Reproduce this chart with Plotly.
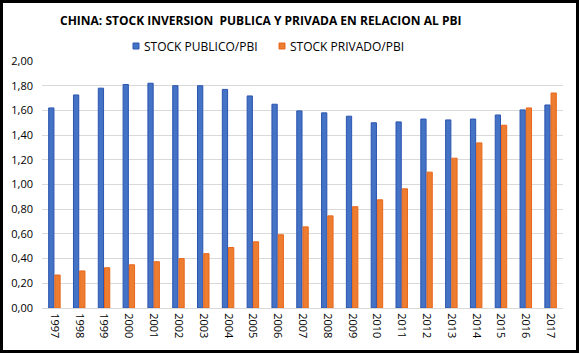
import plotly.graph_objects as go

years = [str(y) for y in range(1997, 2018)]
publico = [1.62, 1.725, 1.78, 1.81, 1.82, 1.80, 1.80, 1.77, 1.717, 1.65, 1.596, 1.58,
           1.553, 1.50, 1.507, 1.53, 1.523, 1.53, 1.563, 1.604, 1.644]
privado = [0.267, 0.30, 0.326, 0.35, 0.375, 0.40, 0.44, 0.49, 0.536, 0.593, 0.657, 0.746,
           0.82, 0.876, 0.965, 1.10, 1.213, 1.337, 1.48, 1.62, 1.741]
y_ticks = [0, 0.2, 0.4, 0.6, 0.8, 1.0, 1.2, 1.4, 1.6, 1.8, 2.0]

W, H = 580, 354
L, R, T, B = 42, 17, 61, 46
pw, ph = W - L - R, H - T - B

def px(x):
    return (x - L) / pw

def py(y):
    return (H - B - y) / ph

fig = go.Figure()
fig.add_trace(go.Bar(x=years, y=publico, name="STOCK PUBLICO/PBI",
                     marker=dict(color="#4472C4", line=dict(color="#2B55B0", width=1))))
fig.add_trace(go.Bar(x=years, y=privado, name="STOCK PRIVADO/PBI",
                     marker=dict(color="#ED7D31", line=dict(color="#E8661A", width=1))))

font = "Open Sans"
fig.update_layout(
    width=W, height=H,
    margin=dict(l=L, r=R, t=T, b=B),
    paper_bgcolor="white", plot_bgcolor="white",
    separators=",.",
    barmode="group", bargap=0.5, bargroupgap=0.15,
    showlegend=False,
    font=dict(family=font, color="#000000"),
    xaxis=dict(type="category", tickangle=90, tickfont=dict(size=11, color="#000"),
               showgrid=False, showline=True, linecolor="#D9D9D9", linewidth=1,
               ticks="", ticklabelstandoff=2),
    yaxis=dict(range=[0, 2.0], tickvals=y_ticks, tickformat=".2f",
               tickfont=dict(size=11, color="#000"), showgrid=True,
               gridcolor="#D9D9D9", gridwidth=1, zeroline=False, showline=False,
               ticks="", ticklabelstandoff=8),
)

fig.add_annotation(text="<b>CHINA: STOCK INVERSION  PUBLICA Y PRIVADA EN RELACION AL PBI</b>",
                   xref="paper", yref="paper", x=px(260), y=py(20), xanchor="center",
                   yanchor="middle", showarrow=False, font=dict(size=12, color="#000", family=font))

# legend drawn manually
leg_y = py(46)
items = [(133, "#4472C4", "#2B55B0", "STOCK PUBLICO/PBI"), (279, "#ED7D31", "#E8661A", "STOCK PRIVADO/PBI")]
for x0, fc, lc, txt in items:
    fig.add_shape(type="rect", xref="paper", yref="paper",
                  x0=px(x0), x1=px(x0 + 6), y0=py(49), y1=py(43),
                  fillcolor=fc, line=dict(color=lc, width=1))
    fig.add_annotation(text=txt, xref="paper", yref="paper", x=px(x0 + 9), y=leg_y,
                       xanchor="left", yanchor="middle", showarrow=False,
                       font=dict(size=12, color="#000", family=font))

# outer border
fig.add_shape(type="rect", xref="paper", yref="paper",
              x0=px(1.5), x1=px(577.5), y0=py(351.5), y1=py(1.5),
              line=dict(color="black", width=3), fillcolor="rgba(0,0,0,0)", layer="above")

fig.write_html("out.html")
